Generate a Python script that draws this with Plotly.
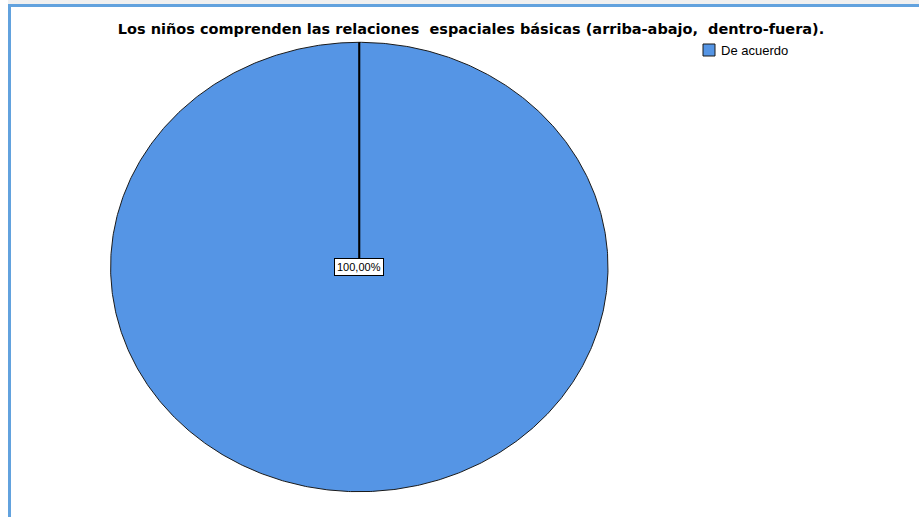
import numpy as np
import plotly.graph_objects as go

# ---- data ----
title_text = "Los niños comprenden las relaciones  espaciales básicas (arriba-abajo,  dentro-fuera)."
categories = ["De acuerdo"]
percentages = [100.0]

# ---- style ----
W, H = 919, 517
slice_colors = ["#5595E5"]
FONT = "Liberation Sans, Arial, sans-serif"
TITLE_FONT = "DejaVu Sans, Liberation Sans, sans-serif"
# ellipse geometry of the pie, in pixels
cx, cy, rx, ry = 359.3, 267.0, 248.7, 224.7
PAD = 1.02  # axis range slightly larger than the unit pie so the outline isn't clipped

fig = go.Figure()

total = float(sum(percentages))
start = 90.0  # start at 12 o'clock, go clockwise
boundaries = []
labels = []
for cat, val, col in zip(categories, percentages, slice_colors):
    sweep = 360.0 * val / total
    theta = np.radians(np.linspace(start, start - sweep, 721))
    xs = np.concatenate([[0.0], np.cos(theta), [0.0]])
    ys = np.concatenate([[0.0], np.sin(theta), [0.0]])
    fig.add_trace(go.Scatter(
        x=xs, y=ys, mode="lines", fill="toself", fillcolor=col,
        line=dict(color="#1a1a1a", width=1), name=cat,
        hoverinfo="name", showlegend=False,
    ))
    boundaries.append(start)
    mid = np.radians(start - sweep / 2)
    r_lab = 0.0 if sweep >= 359.999 else 0.6
    labels.append((r_lab * np.cos(mid), r_lab * np.sin(mid), val / total * 100))
    start -= sweep

# radial edges of the slices
for ang in boundaries:
    a = np.radians(ang)
    fig.add_trace(go.Scatter(
        x=[0, np.cos(a)], y=[0, np.sin(a)], mode="lines",
        line=dict(color="black", width=2), hoverinfo="skip", showlegend=False,
    ))

annotations = []
for lx, ly, pct in labels:
    annotations.append(dict(
        x=lx, y=ly, xref="x", yref="y", showarrow=False,
        text=f"{pct:.2f}".replace(".", ",") + "%",
        font=dict(family=FONT, size=11, color="black"),
        bgcolor="white", bordercolor="black", borderwidth=1, borderpad=2,
    ))

# legend entries
shapes = []
leg_x, leg_y = 703, 44
for i, (cat, col) in enumerate(zip(categories, slice_colors)):
    y0 = leg_y + i * 18
    shapes.append(dict(type="rect", xref="paper", yref="paper",
                       x0=leg_x / W, x1=(leg_x + 12) / W,
                       y0=1 - y0 / H, y1=1 - (y0 + 12) / H,
                       fillcolor=col, line=dict(color="#1a1a1a", width=1)))
    annotations.append(dict(
        x=(leg_x + 16) / W, y=1 - (y0 + 7) / H, xref="paper", yref="paper",
        xanchor="left", yanchor="middle", showarrow=False, text=cat,
        font=dict(family=FONT, size=13, color="black"),
    ))

# window frame: grey strip on top, blue edges
shapes += [
    dict(type="rect", xref="paper", yref="paper", x0=8 / W, x1=1, y0=1 - 4 / H, y1=1,
         fillcolor="#f0f0f0", line=dict(width=0), layer="below"),
    dict(type="rect", xref="paper", yref="paper", x0=8 / W, x1=1, y0=1 - 7 / H, y1=1 - 4 / H,
         fillcolor="#62a2de", line=dict(width=0), layer="below"),
    dict(type="rect", xref="paper", yref="paper", x0=8 / W, x1=11 / W, y0=0, y1=1 - 4 / H,
         fillcolor="#62a2de", line=dict(width=0), layer="below"),
]

fig.update_layout(
    width=W, height=H,
    margin=dict(l=0, r=0, t=0, b=0),
    paper_bgcolor="white", plot_bgcolor="rgba(0,0,0,0)",
    showlegend=False,
    title=dict(text=title_text.replace("  ", "\u00a0 "), x=471 / W, y=1 - 29 / H,
               xanchor="center", yanchor="middle",
               font=dict(family=TITLE_FONT, size=14.5, color="black", weight="bold")),
    xaxis=dict(visible=False, range=[-PAD, PAD], fixedrange=True,
               domain=[(cx - PAD * rx) / W, (cx + PAD * rx) / W]),
    yaxis=dict(visible=False, range=[-PAD, PAD], fixedrange=True,
               domain=[1 - (cy + PAD * ry) / H, 1 - (cy - PAD * ry) / H]),
    annotations=annotations,
    shapes=shapes,
)

fig.write_html("out.html")
